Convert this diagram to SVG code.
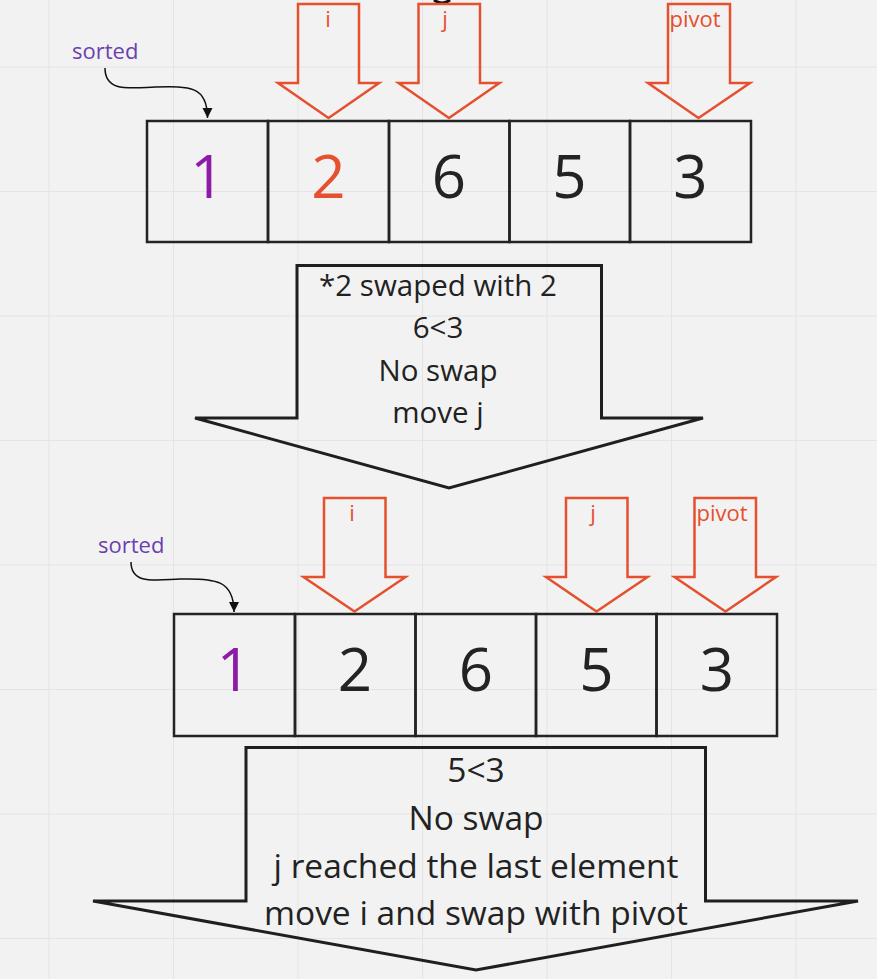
<svg xmlns="http://www.w3.org/2000/svg" width="877" height="979" viewBox="0 0 877 979">
<defs>
<style>
.grid{stroke:#e4e4e4;stroke-width:1}
.cell{fill:none;stroke:#232323;stroke-width:2.5}
.ptr{fill:none;stroke:#e5502e;stroke-width:2.5;stroke-linejoin:miter}
.big{fill:none;stroke:#1f1f1f;stroke-width:3;stroke-linejoin:miter}
.num{font-family:"Open Sans","Noto Sans",sans-serif;font-size:60px;fill:#232323;text-anchor:middle}
.lbl{font-family:"Open Sans","Noto Sans",sans-serif;font-size:22px;fill:#e5502e;text-anchor:middle}
.srt{font-family:"Open Sans","Noto Sans",sans-serif;font-size:22px;fill:#6c3fae}
.note{font-family:"Open Sans","Noto Sans",sans-serif;font-size:29.5px;fill:#222;text-anchor:middle}
.note2{font-family:"Open Sans","Noto Sans",sans-serif;font-size:33.5px;fill:#222;text-anchor:middle}
.conn{fill:none;stroke:#111;stroke-width:1.5}
</style>
<marker id="ah" viewBox="0 0 10 10" refX="10" refY="5" markerWidth="10" markerHeight="14" markerUnits="userSpaceOnUse" orient="auto">
<path d="M0,0 L10,5 L0,10 Z" fill="#111"/>
</marker>
</defs>
<rect width="877" height="979" fill="#f2f2f2"/>
<g id="grid">
<line class="grid" x1="49" y1="0" x2="49" y2="979"/>
<line class="grid" x1="173.5" y1="0" x2="173.5" y2="979"/>
<line class="grid" x1="298" y1="0" x2="298" y2="979"/>
<line class="grid" x1="422.5" y1="0" x2="422.5" y2="979"/>
<line class="grid" x1="547" y1="0" x2="547" y2="979"/>
<line class="grid" x1="671.5" y1="0" x2="671.5" y2="979"/>
<line class="grid" x1="796" y1="0" x2="796" y2="979"/>
<line class="grid" x1="0" y1="67" x2="877" y2="67"/>
<line class="grid" x1="0" y1="191.5" x2="877" y2="191.5"/>
<line class="grid" x1="0" y1="316" x2="877" y2="316"/>
<line class="grid" x1="0" y1="440.5" x2="877" y2="440.5"/>
<line class="grid" x1="0" y1="565" x2="877" y2="565"/>
<line class="grid" x1="0" y1="689.5" x2="877" y2="689.5"/>
<line class="grid" x1="0" y1="814" x2="877" y2="814"/>
<line class="grid" x1="0" y1="938.5" x2="877" y2="938.5"/>
</g>

<g id="top-cut">
<path d="M434,0 Q442,6 450,0" fill="none" stroke="#111" stroke-width="3"/>
</g>

<g id="array1">
<rect class="cell" x="147" y="121" width="121" height="121"/>
<rect class="cell" x="268" y="121" width="121" height="121"/>
<rect class="cell" x="389" y="121" width="120.5" height="121"/>
<rect class="cell" x="509.5" y="121" width="120.5" height="121"/>
<rect class="cell" x="630" y="121" width="121" height="121"/>
<text class="num" x="207.5" y="198" style="fill:#8e1aa8">1</text>
<text class="num" x="328.5" y="198" style="fill:#e5502e">2</text>
<text class="num" x="449" y="198">6</text>
<text class="num" x="569.5" y="198">5</text>
<text class="num" x="690.5" y="198">3</text>
</g>

<g id="ptr-i1">
<path class="ptr" d="M298,4 H359 V83 H379 L328.5,118 L278,83 H298 Z"/>
<text class="lbl" x="328" y="27">i</text>
</g>
<g id="ptr-j1">
<path class="ptr" d="M418.5,4 H480 V83 H499.5 L449,118 L398.5,83 H418.5 Z"/>
<text class="lbl" x="445" y="27">j</text>
</g>
<g id="ptr-p1">
<path class="ptr" d="M668,4 H730 V83 H750 L698.5,118 L648,83 H668 Z"/>
<text class="lbl" x="695" y="27">pivot</text>
</g>
<g id="sorted1">
<text class="srt" x="72" y="59">sorted</text>
</g>

<g id="step1">
<path class="big" d="M297,265.5 H601.5 V418 H703 L449,488 L195,418 H297 Z"/>
<text class="note" x="438" y="296">*2 swaped with 2</text>
<text class="note" x="438" y="338">6&lt;3</text>
<text class="note" x="438" y="381">No swap</text>
<text class="note" x="438" y="423">move j</text>
</g>

<g id="array2">
<rect class="cell" x="174" y="614" width="121" height="122"/>
<rect class="cell" x="295" y="614" width="120.5" height="122"/>
<rect class="cell" x="415.5" y="614" width="120.5" height="122"/>
<rect class="cell" x="536" y="614" width="120.5" height="122"/>
<rect class="cell" x="656.5" y="614" width="120.5" height="122"/>
<text class="num" x="234" y="691" style="fill:#8e1aa8">1</text>
<text class="num" x="355" y="691">2</text>
<text class="num" x="476" y="691">6</text>
<text class="num" x="596.5" y="691">5</text>
<text class="num" x="717" y="691">3</text>
</g>

<g id="ptr-i2">
<path class="ptr" d="M324,498 H385.5 V577 H405.5 L354.5,611.5 L303.5,577 H324 Z"/>
<text class="lbl" x="352" y="521">i</text>
</g>
<g id="ptr-j2">
<path class="ptr" d="M566,498 H627.5 V577 H647.5 L596.5,611.5 L546,577 H566 Z"/>
<text class="lbl" x="593" y="521">j</text>
</g>
<g id="ptr-p2">
<path class="ptr" d="M694.5,498 H756 V577 H776 L725.5,611.5 L674.5,577 H694.5 Z"/>
<text class="lbl" x="722" y="521">pivot</text>
</g>
<g id="sorted2">
<text class="srt" x="98" y="553">sorted</text>
</g>

<g id="step2">
<path class="big" d="M246,747.5 H705.5 V901 H858 L476,970 L93,901 H246 Z"/>
<text class="note2" x="476" y="782">5&lt;3</text>
<text class="note2" x="476" y="830">No swap</text>
<text class="note2" x="476" y="878">j reached the last element</text>
<text class="note2" x="476" y="925">move i and swap with pivot</text>
</g>

<g id="connectors">
<path class="conn" d="M105,68 C105,92 128,88 155,87 C190,86 207.5,86 207.5,118" marker-end="url(#ah)"/>
<path class="conn" d="M131,562 C131,585 155,580 180,579 C215,578 234,580 234,612" marker-end="url(#ah)"/>
</g>
</svg>
